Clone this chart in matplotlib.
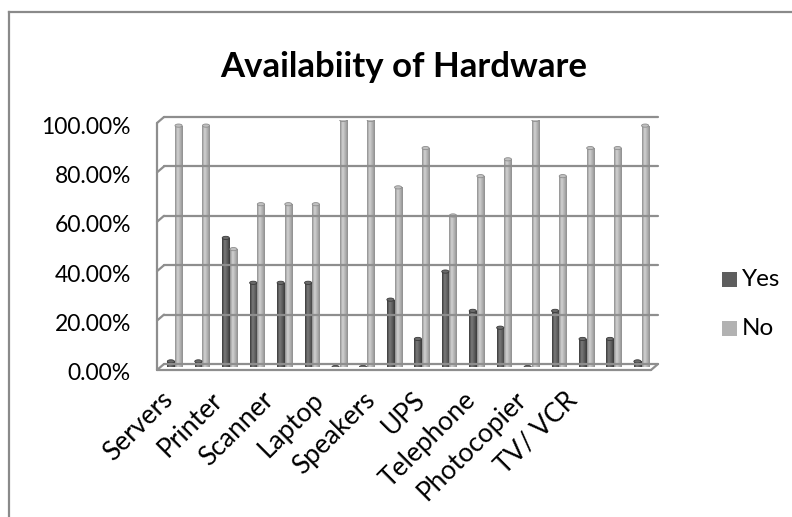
import matplotlib
matplotlib.use("Agg")
import matplotlib.pyplot as plt
import numpy as np
from matplotlib.colors import LinearSegmentedColormap
from matplotlib.patches import Ellipse, Rectangle
from matplotlib.lines import Line2D

plt.rcParams['font.family'] = ['Lato', 'DejaVu Sans']

# ---- data -------------------------------------------------------------
title = "Availabiity of Hardware"
categories = ["Servers", "", "Printer", "", "Scanner", "", "Laptop", "",
              "Speakers", "", "UPS", "", "Telephone", "", "Photocopier", "",
              "TV/ VCR", ""]
yes_pct = [2.27, 2.27, 52.27, 34.09, 34.09, 34.09, 0.0, 0.0, 27.27,
           11.36, 38.64, 22.73, 15.91, 0.0, 22.73, 11.36, 11.36, 2.27]
no_pct = [97.73, 97.73, 47.73, 65.91, 65.91, 65.91, 100.0, 100.0, 72.73,
          88.64, 61.36, 77.27, 84.09, 100.0, 77.27, 88.64, 88.64, 97.73]
series_names = ["Yes", "No"]
y_ticks = [0, 20, 40, 60, 80, 100]
y_tick_labels = ["0.00%", "20.00%", "40.00%", "60.00%", "80.00%", "100.00%"]

# ---- figure -----------------------------------------------------------
W, H = 792, 517
fig = plt.figure(figsize=(W / 100, H / 100), dpi=100)
fig.patch.set_facecolor("white")

ax = fig.add_axes([161 / W, (H - 367) / H, 494 / W, 247 / H])
ax.set_axis_off()
n = len(categories)
ax.set_xlim(-0.5, n - 0.5)
ax.set_ylim(0, 100)

grid_col = "#8e8e8e"
back = np.array([3, 3])     # depth offset of the back wall (pixels)
front = np.array([-4, -3])  # depth offset of the front edge (pixels)


def disp(x, y):
    return ax.transData.transform((x, y))


def fig_line(p, q, **kw):
    fig.add_artist(Line2D([p[0], q[0]], [p[1], q[1]], transform=None,
                          color=grid_col, lw=1.6, solid_capstyle="round", **kw))


# back-wall gridlines and left-wall diagonals
for v in y_ticks:
    fig_line(disp(-0.5, v) + back, disp(n - 0.5, v) + back, zorder=1)
    fig_line(disp(-0.5, v) + front, disp(-0.5, v) + back, zorder=1)
# left wall front edge
fig_line(disp(-0.5, 0) + front, disp(-0.5, 100) + front, zorder=1)
# floor front edge and right diagonal
fig_line(disp(-0.5, 0) + front, disp(n - 0.5, 0) + front, zorder=1)
fig_line(disp(n - 0.5, 0) + front, disp(n - 0.5, 0) + back, zorder=1)

# ---- shaded cylinder-like columns --------------------------------------
x = np.arange(n)
bw = 0.26
dx = 0.14
styles = {
    "Yes": dict(edge="#3a3a3a", mid="#7a7a7a", base="#5e5e5e", cap="#6a6a6a"),
    "No": dict(edge="#8e8e8e", mid="#d2d2d2", base="#b2b2b2", cap="#c0c0c0"),
}
cap_h = 1.3
for name, vals, off in [("Yes", yes_pct, -dx), ("No", no_pct, dx)]:
    st = styles[name]
    cmap = LinearSegmentedColormap.from_list(
        name, [st["edge"], st["mid"], st["base"], st["edge"]])
    grad = np.linspace(0, 1, 64)[None, :]
    bars = ax.bar(x + off, vals, width=bw, color=st["base"], linewidth=0,
                  zorder=3)
    for b, v in zip(bars, vals):
        if v > 0:
            im = ax.imshow(grad, extent=(b.get_x(), b.get_x() + bw, 0, v),
                           aspect="auto", cmap=cmap, origin="lower",
                           interpolation="bilinear", zorder=3.5)
            im.set_clip_path(b)
        ax.add_patch(Ellipse((b.get_x() + bw / 2, v), bw, cap_h,
                             facecolor=st["cap"], edgecolor=st["edge"],
                             lw=0.6, zorder=4))
ax.set_xlim(-0.5, n - 0.5)
ax.set_ylim(0, 100)

# ---- axis labels ------------------------------------------------------
tick_fs = 16.5
cat_fs = 19
for v, lab in zip(y_ticks, y_tick_labels):
    px, py = disp(-0.5, v)
    fig.text(131 / W, (py - 7) / H, lab, ha="right", va="center",
             fontsize=tick_fs, color="black")

x0 = disp(0, 0)
label_step = 50.6
k = 0
for i, lab in enumerate(categories):
    if not lab:
        continue
    ax_px = x0[0] - 15 + k * label_step
    fig.text(ax_px / W, (x0[1] - 20) / H, lab, ha="right", va="top",
             rotation=45, rotation_mode="anchor", fontsize=cat_fs,
             color="black")
    k += 1

fig.text(404 / W, 1 - 67 / H, title, ha="center", va="center",
         fontsize=25, fontweight="bold", color="black")

# ---- legend -----------------------------------------------------------
for j, name in enumerate(series_names):
    yc = 279.5 + j * 49
    fig.add_artist(Rectangle(((722) / W, 1 - (yc + 7.5) / H), 15 / W, 15 / H,
                             transform=fig.transFigure,
                             facecolor=styles[name]["base"], edgecolor="none"))
    fig.text(742 / W, 1 - yc / H, name, ha="left", va="center",
             fontsize=tick_fs + 1, color="black")

# ---- chart border -----------------------------------------------------
fig.add_artist(Line2D([9 / W, 1.01], [1 - 12 / H, 1 - 12 / H],
                      transform=fig.transFigure, color="#8a8a8a", lw=1.6))
fig.add_artist(Line2D([9 / W, 9 / W], [1 - 12 / H, -0.01],
                      transform=fig.transFigure, color="#8a8a8a", lw=1.6))

fig.savefig("out.png", dpi=100, facecolor="white")
